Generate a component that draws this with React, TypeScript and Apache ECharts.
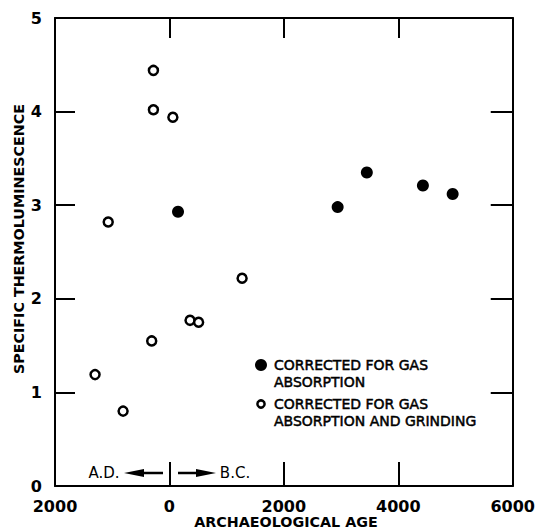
import React, { useEffect, useRef } from "react";
import * as echarts from "echarts";

// Archaeological age: negative = A.D., positive = B.C.
const xTicks = [-2000, 0, 2000, 4000, 6000];
const yTicks = [0, 1, 2, 3, 4, 5];
const gasAges = [150, 2940, 3450, 4430, 4950];
const gasValues = [2.93, 2.98, 3.35, 3.21, 3.12];
const grindAges = [-280, -280, 60, -1070, 1270, 360, 510, -310, -1300, -810];
const grindValues = [4.44, 4.02, 3.94, 2.82, 2.22, 1.77, 1.75, 1.55, 1.19, 0.8];
const legendGas = ["CORRECTED FOR GAS", "ABSORPTION"];
const legendGrind = ["CORRECTED FOR GAS", "ABSORPTION AND GRINDING"];

const FONT = "DejaVu Sans";

export default function App() {
  const ref = useRef<HTMLDivElement>(null);
  useEffect(() => {
    if (!ref.current) return;
    const chart = echarts.init(ref.current, undefined, { renderer: "svg" });
    const xMin = xTicks[0];
    const xMax = xTicks[xTicks.length - 1];
    const yMin = yTicks[0];
    const yMax = yTicks[yTicks.length - 1];
    const axisLine = { show: true, onZero: false, lineStyle: { color: "#000", width: 2 } };
    const baseX = {
      type: "value" as const,
      min: xMin,
      max: xMax,
      interval: 2000,
      axisLine,
      splitLine: { show: false },
    };
    const baseY = {
      type: "value" as const,
      min: yMin,
      max: yMax,
      interval: 1,
      axisLine,
      splitLine: { show: false },
    };
    const labelStyle = {
      color: "#000",
      fontFamily: FONT,
      fontWeight: "bold" as const,
      fontSize: 16,
    };
    const legendText = (x: number, y: number, lines: string[]) => ({
      type: "text",
      x,
      y,
      style: {
        text: lines.join("\n"),
        font: `14px "${FONT}"`,
        lineHeight: 17,
        fill: "#000",
        stroke: "#000",
        lineWidth: 0.5,
        textAlign: "left",
        textVerticalAlign: "top",
      },
    });
    chart.setOption({
      animation: false,
      backgroundColor: "#fff",
      grid: { left: 55, right: 25, top: 18, bottom: 44 },
      xAxis: [
        {
          ...baseX,
          position: "bottom",
          axisTick: { show: true, inside: true, length: 24, lineStyle: { color: "#000", width: 2 } },
          axisLabel: { ...labelStyle, margin: 12, formatter: (v: number) => String(Math.abs(v)) },
        },
        {
          ...baseX,
          position: "top",
          axisTick: { show: true, inside: true, length: 20, lineStyle: { color: "#000", width: 2 } },
          axisLabel: { show: false },
        },
      ],
      yAxis: [
        {
          ...baseY,
          position: "left",
          axisTick: { show: true, inside: true, length: 20, lineStyle: { color: "#000", width: 2 } },
          axisLabel: { ...labelStyle, margin: 13 },
        },
        {
          ...baseY,
          position: "right",
          axisTick: { show: true, inside: true, length: 22, lineStyle: { color: "#000", width: 2 } },
          axisLabel: { show: false },
        },
      ],
      series: [
        {
          type: "scatter",
          name: "gas",
          symbol: "circle",
          symbolSize: 12,
          itemStyle: { color: "#000", opacity: 1 },
          data: gasAges.map((a, i) => [a, gasValues[i]]),
        },
        {
          type: "scatter",
          name: "grind",
          symbol: "circle",
          symbolSize: 9,
          itemStyle: { color: "#fff", borderColor: "#000", borderWidth: 2.5, opacity: 1 },
          data: grindAges.map((a, i) => [a, grindValues[i]]),
        },
      ],
      graphic: [
        {
          type: "text",
          x: 19,
          y: 239,
          rotation: Math.PI / 2,
          style: {
            text: "SPECIFIC THERMOLUMINESCENCE",
            font: `bold 14.3px "${FONT}"`,
            fill: "#000",
            textAlign: "center",
            textVerticalAlign: "middle",
          },
        },
        {
          type: "text",
          x: 286,
          y: 522,
          style: {
            text: "ARCHAEOLOGICAL AGE",
            font: `bold 14.3px "${FONT}"`,
            fill: "#000",
            textAlign: "center",
            textVerticalAlign: "middle",
          },
        },
        // legend
        { type: "circle", shape: { cx: 261, cy: 365, r: 6 }, style: { fill: "#000" } },
        legendText(274, 356, legendGas),
        { type: "circle", shape: { cx: 261, cy: 404, r: 3.6 }, style: { fill: "#fff", stroke: "#000", lineWidth: 2.5 } },
        legendText(274, 395, legendGrind),
        // A.D. / B.C. annotation
        {
          type: "text",
          x: 104,
          y: 473,
          style: { text: "A.D.", font: `15px "${FONT}"`, fill: "#000", textAlign: "center", textVerticalAlign: "middle" },
        },
        { type: "line", shape: { x1: 140, y1: 473, x2: 163, y2: 473 }, style: { stroke: "#000", lineWidth: 2.5 } },
        { type: "polygon", shape: { points: [[124, 473], [144, 469], [144, 477]] }, style: { fill: "#000" } },
        { type: "line", shape: { x1: 178, y1: 473, x2: 200, y2: 473 }, style: { stroke: "#000", lineWidth: 2.5 } },
        { type: "polygon", shape: { points: [[216, 473], [196, 469], [196, 477]] }, style: { fill: "#000" } },
        {
          type: "text",
          x: 235,
          y: 473,
          style: { text: "B.C.", font: `15px "${FONT}"`, fill: "#000", textAlign: "center", textVerticalAlign: "middle" },
        },
      ],
    });
    return () => chart.dispose();
  }, []);
  return (
    <div
      ref={ref}
      style={{ position: "fixed", left: 0, top: 0, width: 538, height: 530, background: "#fff" }}
    />
  );
}
